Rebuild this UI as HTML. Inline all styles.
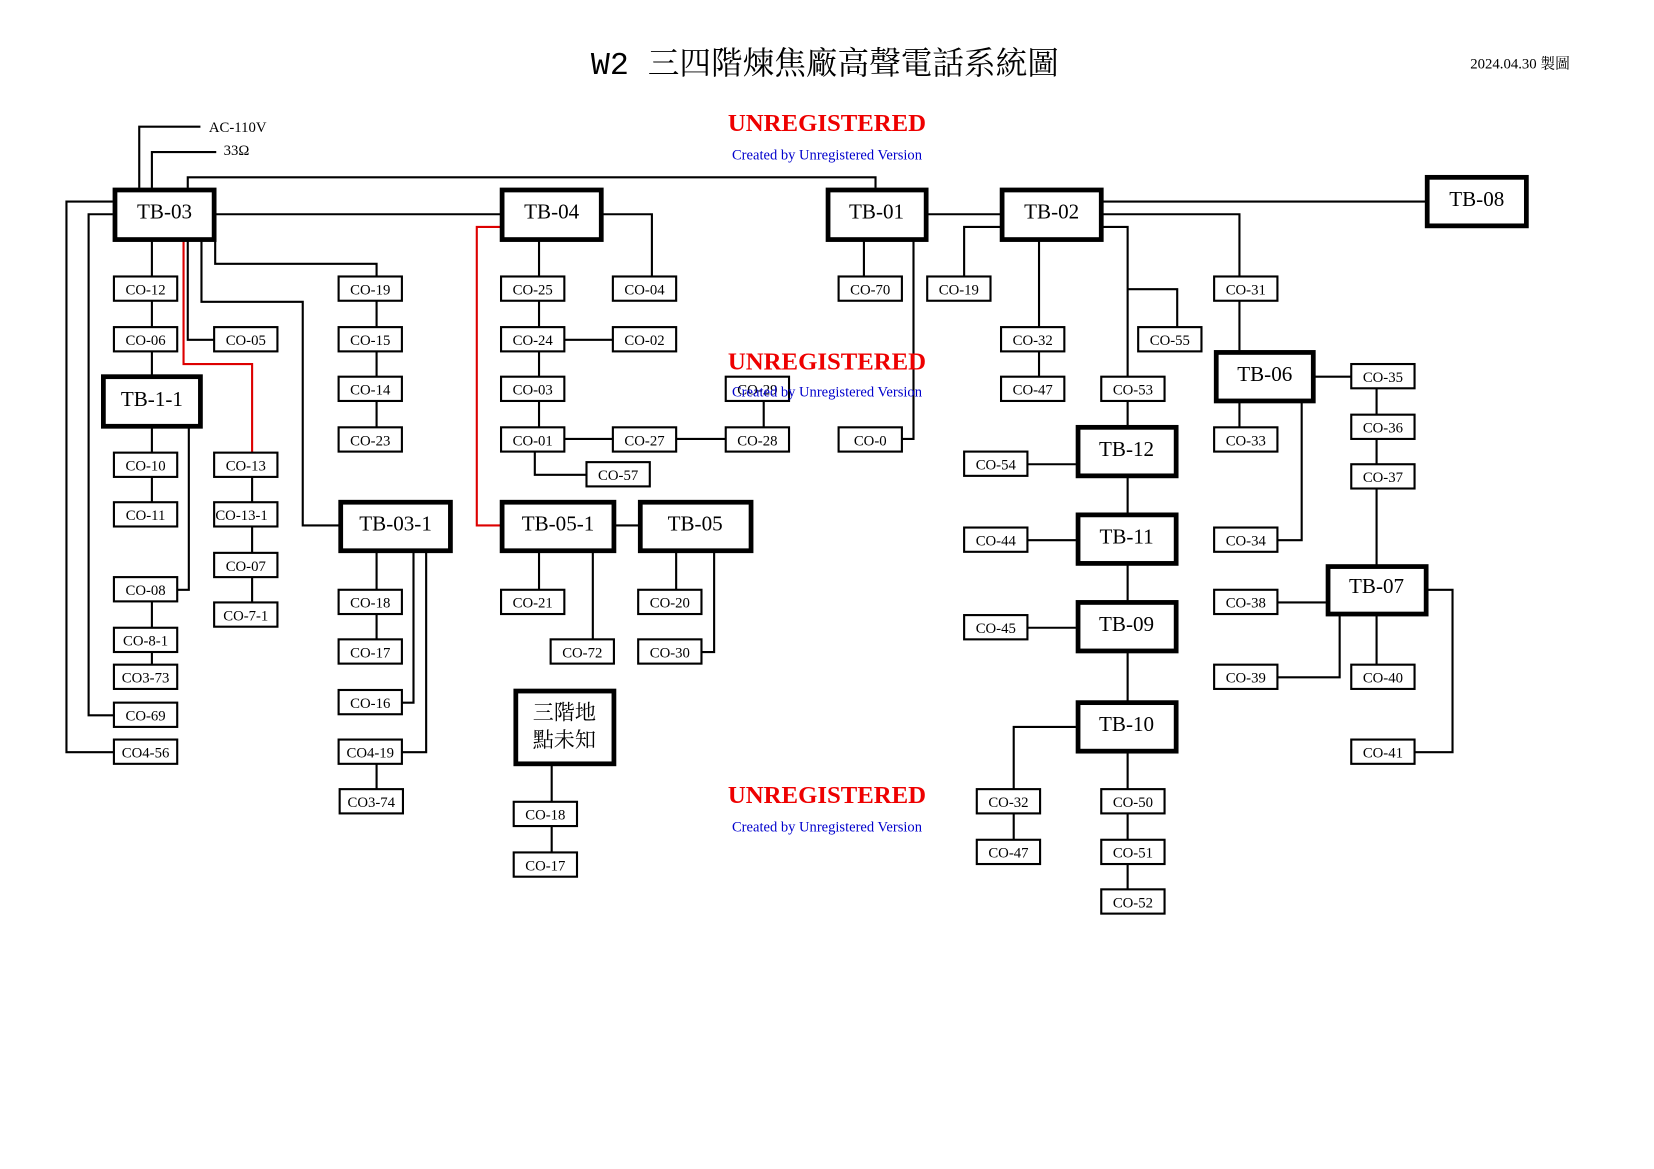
<!DOCTYPE html>
<html><head><meta charset="utf-8"><style>
html,body{margin:0;padding:0;background:#fff;}
svg{display:block;}
text{font-family:"Liberation Serif","Noto Serif CJK SC",serif;}
.s rect{fill:#fff;stroke:#000;stroke-width:2;}
.s text{font-size:14px;text-anchor:middle;}
.b rect{fill:#fff;stroke:#000;stroke-width:4.5;}
.b text{font-size:20px;text-anchor:middle;}
.l{fill:none;stroke:#000;stroke-width:2;}
.r{fill:none;stroke:#d00;stroke-width:2;}
.wm1{fill:#e00;font-weight:bold;font-size:23.5px;text-anchor:middle;}
.wm2{fill:#00c;font-size:13.8px;text-anchor:middle;}
</style></head><body>
<svg width="1654" height="1169" viewBox="0 0 1568 1108" xmlns="http://www.w3.org/2000/svg">
<text x="782" y="70" font-size="30" text-anchor="middle" style='font-family:"Liberation Mono","Noto Serif CJK SC",serif'>W2 三四階煉焦廠高聲電話系統圖</text>
<text x="1441" y="65" font-size="14" text-anchor="middle">2024.04.30 製圖</text>

<path class="l" d="M132 178V120H190 M144 178V144H205 M178 178V168H830V178
M204 203H474 M571 203H618V262 M879 203H948 M1045 191H1351
M1045 203H1175V262 M1045 215H1069V357 M1069 274H1116V310 M948 215H914V262 M985 228V310 M985 333V357
M819 228V262 M866 228V416H855
M144 228V262 M144 285V310 M144 333V356 M144 405V429 M144 452V476
M179 405V559H168 M144 570V595 M144 618V630
M107 203H84V678H108 M107 191H63V713H108
M178 228V322H203 M239 452V476 M239 499V524 M239 547V571
M191 228V286H287V498H321 M204 228V250H357V262 M357 285V310 M357 333V357 M357 380V405
M357 523V559 M357 582V606 M392 523V666H381 M404 523V713H381 M357 724V748
M511 228V262 M511 285V310 M511 333V357 M511 380V405 M535 322H581 M535 416H581 M641 416H688 M724 380V405 M507 428V450H556
M583 498H605 M511 523V559 M562 523V606 M641 523V559 M677 523V618H665
M523 725V760 M523 783V808
M1069 380V403 M974 440H1020 M1069 452V486 M974 512H1020 M1069 535V569 M974 595H1020 M1069 618V664
M1020 689H961V748 M961 771V796 M1069 713V748 M1069 771V796 M1069 819V843
M1175 285V332 M1175 381V405 M1234 381V512H1210 M1246 357H1281 M1305 368V393 M1305 416V440 M1305 463V535
M1210 571H1257 M1270 583V642H1210 M1305 583V630 M1353 559H1377V713H1341"/>
<path class="r" d="M174 228V345H239V429 M474 215H452V498H474"/>

<g class="b">
<rect x="109" y="180" width="94" height="47"/><text x="156" y="207">TB-03</text>
<rect x="476" y="180" width="94" height="47"/><text x="523" y="207">TB-04</text>
<rect x="785" y="180" width="93" height="47"/><text x="831" y="207">TB-01</text>
<rect x="950" y="180" width="94" height="47"/><text x="997" y="207">TB-02</text>
<rect x="1353" y="168" width="94" height="46"/><text x="1400" y="195">TB-08</text>
<rect x="98" y="357" width="92" height="47"/><text x="144" y="385">TB-1-1</text>
<rect x="323" y="476" width="104" height="46"/><text x="375" y="503">TB-03-1</text>
<rect x="476" y="476" width="106" height="46"/><text x="529" y="503">TB-05-1</text>
<rect x="607" y="476" width="105" height="46"/><text x="659" y="503">TB-05</text>
<rect x="489" y="655" width="93" height="69"/>
<text x="535" y="682">三階地</text><text x="535" y="708">點未知</text>
<rect x="1022" y="405" width="93" height="46"/><text x="1068" y="432">TB-12</text>
<rect x="1022" y="488" width="93" height="46"/><text x="1068" y="515">TB-11</text>
<rect x="1022" y="571" width="93" height="46"/><text x="1068" y="598">TB-09</text>
<rect x="1022" y="666" width="93" height="46"/><text x="1068" y="693">TB-10</text>
<rect x="1153" y="334" width="92" height="46"/><text x="1199" y="361">TB-06</text>
<rect x="1259" y="537" width="93" height="45"/><text x="1305" y="562">TB-07</text>
</g>

<g class="s">
<rect x="108" y="262" width="60" height="23"/><text x="138" y="279">CO-12</text>
<rect x="108" y="310" width="60" height="23"/><text x="138" y="327">CO-06</text>
<rect x="108" y="429" width="60" height="23"/><text x="138" y="446">CO-10</text>
<rect x="108" y="476" width="60" height="23"/><text x="138" y="493">CO-11</text>
<rect x="108" y="547" width="60" height="23"/><text x="138" y="564">CO-08</text>
<rect x="108" y="595" width="60" height="23"/><text x="138" y="612">CO-8-1</text>
<rect x="108" y="630" width="60" height="23"/><text x="138" y="647">CO3-73</text>
<rect x="108" y="666" width="60" height="23"/><text x="138" y="683">CO-69</text>
<rect x="108" y="701" width="60" height="23"/><text x="138" y="718">CO4-56</text>
<rect x="203" y="310" width="60" height="23"/><text x="233" y="327">CO-05</text>
<rect x="203" y="429" width="60" height="23"/><text x="233" y="446">CO-13</text>
<rect x="203" y="476" width="60" height="23"/><text x="229" y="493">CO-13-1</text>
<rect x="203" y="524" width="60" height="23"/><text x="233" y="541">CO-07</text>
<rect x="203" y="571" width="60" height="23"/><text x="233" y="588">CO-7-1</text>
<rect x="321" y="262" width="60" height="23"/><text x="351" y="279">CO-19</text>
<rect x="321" y="310" width="60" height="23"/><text x="351" y="327">CO-15</text>
<rect x="321" y="357" width="60" height="23"/><text x="351" y="374">CO-14</text>
<rect x="321" y="405" width="60" height="23"/><text x="351" y="422">CO-23</text>
<rect x="321" y="559" width="60" height="23"/><text x="351" y="576">CO-18</text>
<rect x="321" y="606" width="60" height="23"/><text x="351" y="623">CO-17</text>
<rect x="321" y="654" width="60" height="23"/><text x="351" y="671">CO-16</text>
<rect x="321" y="701" width="60" height="23"/><text x="351" y="718">CO4-19</text>
<rect x="322" y="748" width="60" height="23"/><text x="352" y="765">CO3-74</text>
<rect x="475" y="262" width="60" height="23"/><text x="505" y="279">CO-25</text>
<rect x="475" y="310" width="60" height="23"/><text x="505" y="327">CO-24</text>
<rect x="475" y="357" width="60" height="23"/><text x="505" y="374">CO-03</text>
<rect x="475" y="405" width="60" height="23"/><text x="505" y="422">CO-01</text>
<rect x="581" y="262" width="60" height="23"/><text x="611" y="279">CO-04</text>
<rect x="581" y="310" width="60" height="23"/><text x="611" y="327">CO-02</text>
<rect x="581" y="405" width="60" height="23"/><text x="611" y="422">CO-27</text>
<rect x="556" y="438" width="60" height="23"/><text x="586" y="455">CO-57</text>
<rect x="688" y="357" width="60" height="23"/><text x="718" y="374">CO-29</text>
<rect x="688" y="405" width="60" height="23"/><text x="718" y="422">CO-28</text>
<rect x="475" y="559" width="60" height="23"/><text x="505" y="576">CO-21</text>
<rect x="522" y="606" width="60" height="23"/><text x="552" y="623">CO-72</text>
<rect x="605" y="559" width="60" height="23"/><text x="635" y="576">CO-20</text>
<rect x="605" y="606" width="60" height="23"/><text x="635" y="623">CO-30</text>
<rect x="487" y="760" width="60" height="23"/><text x="517" y="777">CO-18</text>
<rect x="487" y="808" width="60" height="23"/><text x="517" y="825">CO-17</text>
<rect x="795" y="262" width="60" height="23"/><text x="825" y="279">CO-70</text>
<rect x="795" y="405" width="60" height="23"/><text x="825" y="422">CO-0</text>
<rect x="879" y="262" width="60" height="23"/><text x="909" y="279">CO-19</text>
<rect x="949" y="310" width="60" height="23"/><text x="979" y="327">CO-32</text>
<rect x="949" y="357" width="60" height="23"/><text x="979" y="374">CO-47</text>
<rect x="1044" y="357" width="60" height="23"/><text x="1074" y="374">CO-53</text>
<rect x="1079" y="310" width="60" height="23"/><text x="1109" y="327">CO-55</text>
<rect x="914" y="428" width="60" height="23"/><text x="944" y="445">CO-54</text>
<rect x="914" y="500" width="60" height="23"/><text x="944" y="517">CO-44</text>
<rect x="914" y="583" width="60" height="23"/><text x="944" y="600">CO-45</text>
<rect x="926" y="748" width="60" height="23"/><text x="956" y="765">CO-32</text>
<rect x="926" y="796" width="60" height="23"/><text x="956" y="813">CO-47</text>
<rect x="1044" y="748" width="60" height="23"/><text x="1074" y="765">CO-50</text>
<rect x="1044" y="796" width="60" height="23"/><text x="1074" y="813">CO-51</text>
<rect x="1044" y="843" width="60" height="23"/><text x="1074" y="860">CO-52</text>
<rect x="1151" y="262" width="60" height="23"/><text x="1181" y="279">CO-31</text>
<rect x="1151" y="405" width="60" height="23"/><text x="1181" y="422">CO-33</text>
<rect x="1151" y="500" width="60" height="23"/><text x="1181" y="517">CO-34</text>
<rect x="1151" y="559" width="60" height="23"/><text x="1181" y="576">CO-38</text>
<rect x="1151" y="630" width="60" height="23"/><text x="1181" y="647">CO-39</text>
<rect x="1281" y="345" width="60" height="23"/><text x="1311" y="362">CO-35</text>
<rect x="1281" y="393" width="60" height="23"/><text x="1311" y="410">CO-36</text>
<rect x="1281" y="440" width="60" height="23"/><text x="1311" y="457">CO-37</text>
<rect x="1281" y="630" width="60" height="23"/><text x="1311" y="647">CO-40</text>
<rect x="1281" y="701" width="60" height="23"/><text x="1311" y="718">CO-41</text>
</g>

<text x="198" y="125" font-size="14">AC-110V</text>
<text x="212" y="147" font-size="14">33Ω</text>

<text class="wm1" x="784" y="124">UNREGISTERED</text>
<text class="wm2" x="784" y="151">Created by Unregistered Version</text>
<text class="wm1" x="784" y="350">UNREGISTERED</text>
<text class="wm2" x="784" y="376">Created by Unregistered Version</text>
<text class="wm1" x="784" y="761">UNREGISTERED</text>
<text class="wm2" x="784" y="788">Created by Unregistered Version</text>
</svg>
</body></html>
